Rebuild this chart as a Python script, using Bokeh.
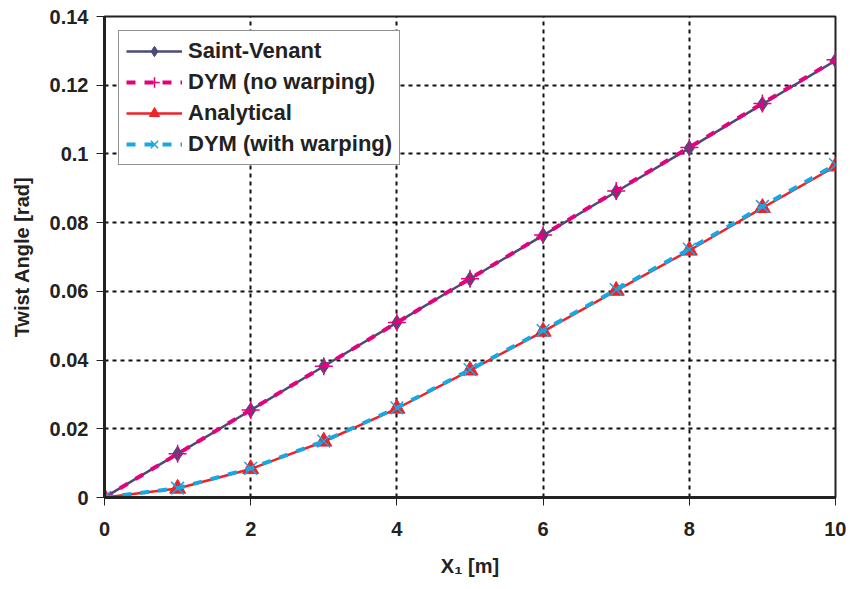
from bokeh.plotting import figure
from bokeh.models import Range1d, Legend, LegendItem, CustomJSTickFormatter, FixedTicker
from bokeh.embed import file_html
from bokeh.resources import INLINE

x = [0, 1, 2, 3, 4, 5, 6, 7, 8, 9, 10]
saint_venant = [0, 0.0127, 0.0254, 0.0382, 0.0509, 0.0636, 0.0763, 0.0890, 0.1017, 0.1145, 0.1272]
dym_no_warp = [0, 0.0127, 0.0255, 0.0382, 0.0509, 0.0637, 0.0764, 0.0892, 0.1019, 0.1147, 0.1274]
analytical = [0, 0.0026, 0.0083, 0.0163, 0.0259, 0.0370, 0.0483, 0.0602, 0.0719, 0.0843, 0.0964]
dym_warp = [0, 0.0027, 0.0085, 0.0164, 0.0261, 0.0372, 0.0486, 0.0605, 0.0723, 0.0847, 0.0969]

x_ticks = [0, 2, 4, 6, 8, 10]
y_ticks = [0, 0.02, 0.04, 0.06, 0.08, 0.1, 0.12, 0.14]

FONT = "Liberation Sans"
C_SV = "#4d4a78"
C_NW = "#e6007e"
C_AN = "#ee2229"
C_WW = "#17a8e3"

p = figure(width=846, height=585, output_backend="svg", toolbar_location=None,
           x_range=Range1d(0, 10), y_range=Range1d(0, 0.14),
           min_border_left=104, min_border_right=11, min_border_top=16, min_border_bottom=88)
p.background_fill_color = "white"
p.border_fill_color = "white"
p.outline_line_color = "#222222"
p.outline_line_width = 2

for ax in (p.xaxis[0], p.yaxis[0]):
    ax.axis_line_color = "#222222"
    ax.axis_line_width = 3
    ax.major_tick_line_color = "#222222"
    ax.major_tick_line_width = 1
    ax.major_tick_out = 8
    ax.major_tick_in = 0
    ax.minor_tick_line_color = None
    ax.major_label_text_font = FONT
    ax.major_label_text_font_style = "bold"
    ax.major_label_text_font_size = "20px"
    ax.major_label_text_color = "#222222"
    ax.axis_label_text_font = FONT
    ax.axis_label_text_font_style = "bold"
    ax.axis_label_text_font_size = "20px"
    ax.axis_label_text_color = "#222222"

p.xaxis.ticker = FixedTicker(ticks=x_ticks)
p.yaxis.ticker = FixedTicker(ticks=y_ticks)
p.xaxis.major_label_standoff = 16
p.yaxis.major_label_standoff = 8
p.yaxis.formatter = CustomJSTickFormatter(code="return Number(tick.toFixed(2)).toString();")
p.xaxis.axis_label = "X\u2081 [m]"
p.yaxis.axis_label = "Twist Angle [rad]"
p.xaxis.axis_label_standoff = 16
p.yaxis.axis_label_standoff = 14

p.grid.grid_line_color = "#111111"
p.grid.grid_line_width = 2
p.grid.grid_line_dash = "4 4"

l1 = p.line(x, saint_venant, line_color=C_SV, line_width=2.5)
m1 = p.scatter(x, saint_venant, marker="diamond", size=15, fill_color=C_SV, line_color=C_SV)
l2 = p.line(x, dym_no_warp, line_color=C_NW, line_width=4, line_dash="9 9")
m2 = p.scatter(x, dym_no_warp, marker="cross", size=18, line_color=C_NW, line_width=1.5)
l3 = p.line(x, analytical, line_color=C_AN, line_width=2.5)
m3 = p.scatter(x, analytical, marker="triangle", size=16, fill_color=C_AN, line_color=C_AN)
l4 = p.line(x, dym_warp, line_color=C_WW, line_width=4, line_dash="9 9")
m4 = p.scatter(x, dym_warp, marker="x", size=18, line_color=C_WW, line_width=1.5)

legend = Legend(items=[
    LegendItem(label="Saint-Venant", renderers=[l1, m1]),
    LegendItem(label="DYM (no warping)", renderers=[l2, m2]),
    LegendItem(label="Analytical", renderers=[l3, m3]),
    LegendItem(label="DYM (with warping)", renderers=[l4, m4]),
], location="top_left")
legend.label_text_font = FONT
legend.label_text_font_style = "bold"
legend.label_text_font_size = "22px"
legend.label_text_color = "#222222"
legend.border_line_color = "#222222"
legend.border_line_width = 1
legend.background_fill_alpha = 1
legend.margin = 14
legend.padding = 7
legend.spacing = 5
legend.glyph_width = 56
legend.label_standoff = 6
legend.label_height = 26
legend.glyph_height = 26
p.add_layout(legend)

open("out.html", "w").write(file_html(p, INLINE))
